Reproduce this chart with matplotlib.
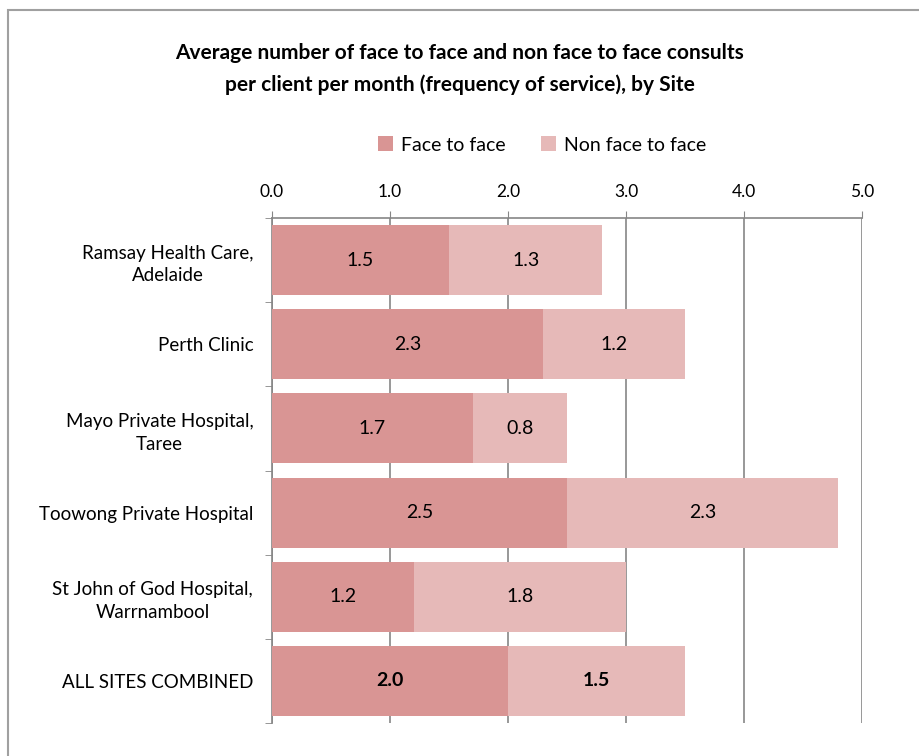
import matplotlib
matplotlib.use('Agg')

import numpy as np
import matplotlib.pyplot as plt
from matplotlib.patches import Rectangle

# =========================
# Data
# =========================
sites = [
    "Ramsay Health Care,\nAdelaide",
    "Perth Clinic",
    "Mayo Private Hospital,\nTaree",
    "Toowong Private Hospital",
    "St John of God Hospital,\nWarrnambool",
    "ALL SITES COMBINED",
]
face_to_face = [1.5, 2.3, 1.7, 2.5, 1.2, 2.0]
non_face_to_face = [1.3, 1.2, 0.8, 2.3, 1.8, 1.5]
x_ticks = [0.0, 1.0, 2.0, 3.0, 4.0, 5.0]

c_f2f = "#D99594"
c_nf2f = "#E6B9B8"
grid_c = "#868686"

plt.rcParams['font.family'] = ['Lato', 'DejaVu Sans']

fig = plt.figure(figsize=(9.19, 7.56), dpi=100)
W, H = 919, 756

# outer chart border (only top and left visible)
fig.patches.append(Rectangle((8 / W, -0.1), 1.2, 1.1 - 10 / H,
                             transform=fig.transFigure, fill=False,
                             edgecolor="#A0A0A0", linewidth=1.5))

ax = fig.add_axes([272 / W, 33 / H, (862 - 272) / W, (723 - 218) / H])

y = np.arange(len(sites))
bh = 0.83
ax.barh(y, face_to_face, height=bh, color=c_f2f, label="Face to face", zorder=3)
ax.barh(y, non_face_to_face, left=face_to_face, height=bh, color=c_nf2f,
        label="Non face to face", zorder=3)

# value labels
for i in range(len(sites)):
    weight = "bold" if i == len(sites) - 1 else "normal"
    ax.text(face_to_face[i] / 2, y[i], f"{face_to_face[i]:.1f}", ha="center",
            va="center", fontsize=14, fontweight=weight, zorder=4)
    ax.text(face_to_face[i] + non_face_to_face[i] / 2, y[i],
            f"{non_face_to_face[i]:.1f}", ha="center", va="center",
            fontsize=14, fontweight=weight, zorder=4)

ax.set_xlim(0, 5)
ax.set_ylim(len(sites) - 0.5, -0.5)
ax.xaxis.tick_top()
ax.set_xticks(x_ticks)
ax.set_xticklabels([f"{t:.1f}" for t in x_ticks], fontsize=12.5)
ax.tick_params(axis="x", length=5, color=grid_c, pad=8)
ax.grid(axis="x", color=grid_c, linewidth=1.2, zorder=0)

ax.set_yticks(y)
ax.set_yticklabels(sites, fontsize=13.5, multialignment="center",
                   linespacing=1.4)
ax.tick_params(axis="y", length=0, pad=13.5)
ax.set_yticks(np.arange(-0.5, len(sites), 1.0), minor=True)
ax.tick_params(axis="y", which="minor", length=5, color=grid_c)

for s in ["right", "bottom"]:
    ax.spines[s].set_visible(False)
for s in ["top", "left"]:
    ax.spines[s].set_color(grid_c)
    ax.spines[s].set_linewidth(1.2)

fig.text(0.5, 1 - 69 / H,
         "Average number of face to face and non face to face consults\n"
         "per client per month (frequency of service), by Site",
         ha="center", va="center", fontsize=15, fontweight="bold",
         linespacing=1.65)

fig.legend(loc="center", bbox_to_anchor=(542 / W, 1 - 145 / H), ncol=2,
           frameon=False, fontsize=14, handlelength=0.8, handleheight=0.8,
           columnspacing=1.8, handletextpad=0.4)

fig.savefig("out.png", dpi=100)
